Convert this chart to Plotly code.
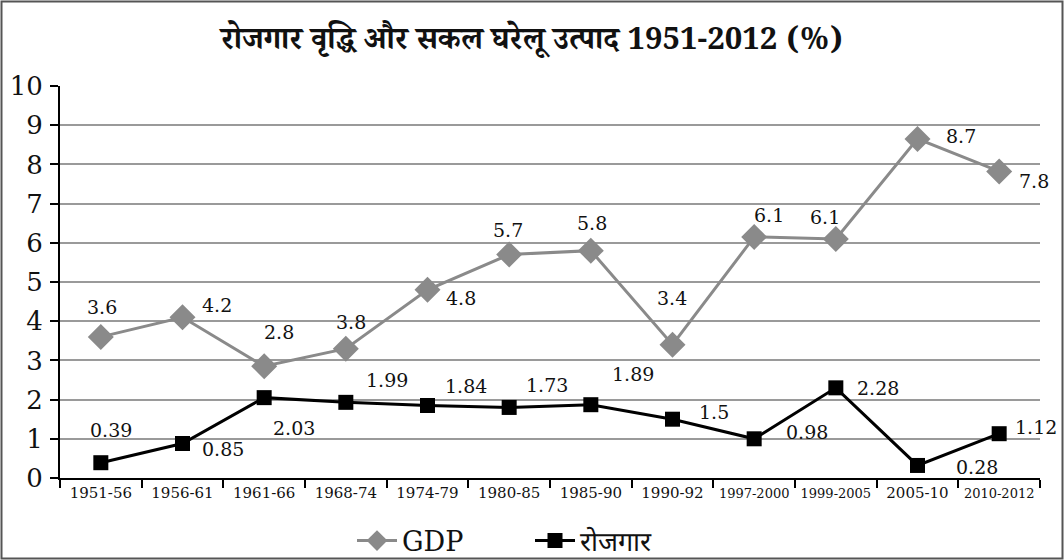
import plotly.graph_objects as go

categories = ["1951-56", "1956-61", "1961-66", "1968-74", "1974-79", "1980-85",
              "1985-90", "1990-92", "1997-2000", "1999-2005", "2005-10", "2010-2012"]
gdp_values = [3.6, 4.1, 2.85, 3.3, 4.8, 5.7, 5.8, 3.4, 6.15, 6.1, 8.65, 7.82]
gdp_labels = ["3.6", "4.2", "2.8", "3.8", "4.8", "5.7", "5.8", "3.4", "6.1", "6.1", "8.7", "7.8"]
emp_values = [0.39, 0.88, 2.05, 1.93, 1.85, 1.8, 1.87, 1.5, 1.0, 2.3, 0.32, 1.13]
emp_labels = ["0.39", "0.85", "2.03", "1.99", "1.84", "1.73", "1.89", "1.5", "0.98", "2.28", "0.28", "1.12"]

title_text = "रोजगार वृद्धि और सकल घरेलू उत्पाद 1951-2012 (%)"
gdp_name = "GDP"
emp_name = "रोजगार"

# label offsets (pixels) -- styling only
gdp_dx = [1, 34, 15, 5, 33, -1, 1, -1, 15, -11, 43, 35]
gdp_dy = [30, 12, 34, 27, -8, 25, 28, 47, 22, 22, 3, -10]
emp_dx = [10, 40, 30, 41, 38, 38, 42, 41, 53, 42, 59, 37]
emp_dy = [33, -5, -30, 22, 19, 22, 31, 7, 7, 0, -2, 7]

SERIF = "'DejaVu Serif', 'Liberation Serif', serif"
HINDI = "'Noto Serif Devanagari', 'Noto Sans Devanagari', 'Lohit Devanagari', serif"

fig = go.Figure()
fig.add_trace(go.Scatter(
    x=categories, y=gdp_values, name=gdp_name, mode="lines+markers",
    line=dict(color="#8a8a8a", width=3),
    marker=dict(symbol="diamond", size=20, color="#8a8a8a"),
))
fig.add_trace(go.Scatter(
    x=categories, y=emp_values, name=emp_name, mode="lines+markers",
    line=dict(color="#000000", width=3),
    marker=dict(symbol="square", size=15, color="#000000"),
))

for c, v, t, dx, dy in zip(categories, gdp_values, gdp_labels, gdp_dx, gdp_dy):
    fig.add_annotation(x=c, y=v, text=t, showarrow=False, xshift=dx, yshift=dy,
                       font=dict(family=SERIF, size=19, color="#111"))
for c, v, t, dx, dy in zip(categories, emp_values, emp_labels, emp_dx, emp_dy):
    fig.add_annotation(x=c, y=v, text=t, showarrow=False, xshift=dx, yshift=dy,
                       font=dict(family=SERIF, size=19, color="#111"))

tick_text = [f'<span style="font-size:13px">{c}</span>' if len(c) > 7 else c for c in categories]

L, R, T, B = 60, 24, 86, 82
W, H = 1064, 560
pw, ph = W - L - R, H - T - B

fig.add_shape(type="rect", xref="paper", yref="paper",
              x0=(-L + 1.5) / pw, x1=1 + (R - 1.5) / pw,
              y0=(-B + 1.5) / ph, y1=1 + (T - 1.5) / ph,
              line=dict(color="#555555", width=2), layer="below")

fig.update_layout(
    width=W, height=H,
    margin=dict(l=L, r=R, t=T, b=B, autoexpand=False),
    paper_bgcolor="white", plot_bgcolor="white",
    title=dict(text=f"<b>{title_text}</b>", x=0.5, xanchor="center",
               y=1 - 38 / H, yanchor="middle", yref="container",
               font=dict(family=HINDI, size=31, color="#111")),
    showlegend=True,
    legend=dict(orientation="h", x=352 / W, xanchor="left", xref="container",
                y=19 / H, yanchor="middle", yref="container",
                bgcolor="rgba(0,0,0,0)",
                font=dict(family=SERIF, size=27, color="#111"),
                itemwidth=40, entrywidth=123, entrywidthmode="pixels"),
    xaxis=dict(type="category", tickmode="array", tickvals=categories, ticktext=tick_text,
               tickangle=0, tickson="boundaries", ticks="outside", ticklen=8,
               tickcolor="#000", tickwidth=2, showline=True, linecolor="#000", linewidth=2,
               showgrid=False, tickfont=dict(family=SERIF, size=15, color="#111"),
               range=[-0.5, 11.5], fixedrange=True, automargin=False),
    yaxis=dict(range=[0, 10], dtick=1, ticks="outside", ticklen=8, tickcolor="#000",
               tickwidth=2, showline=True, linecolor="#000", linewidth=2,
               showgrid=True, gridcolor="#9a9a9a", gridwidth=1.5, zeroline=False,
               tickfont=dict(family=SERIF, size=26, color="#111"), ticklabelstandoff=2,
               automargin=False),
)

fig.write_html("out.html", config={"displayModeBar": False},
               post_script="document.body.style.margin='0';document.body.style.padding='0';")
